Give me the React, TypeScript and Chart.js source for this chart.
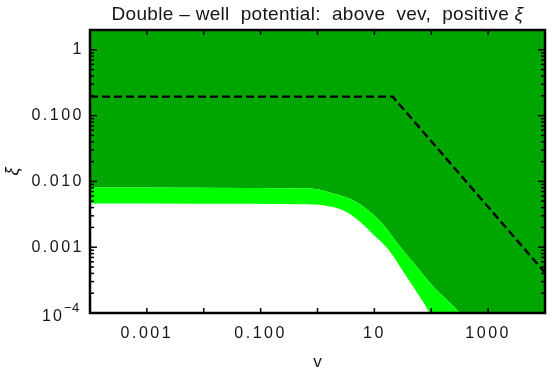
import React, { useEffect, useRef } from "react";
import { Chart, registerables } from "chart.js";

Chart.register(...registerables);

// ---- text ----
const TITLE_MAIN = "Double – well  potential:  above  vev,  positive ";
const TITLE_SYMBOL = "ξ";
const X_LABEL = "v";
const Y_LABEL = "ξ";

// ---- ticks ----
const xTickValues = [1e-4, 1e-3, 1e-2, 1e-1, 1, 10, 100, 1000, 1e4];
const xTickLabels = ["", "0.001", "", "0.100", "", "10", "", "1000", ""];
const yTickValues = [1e-4, 1e-3, 1e-2, 1e-1, 1];
const yTickLabels = ["", "0.001", "0.010", "0.100", "1"];
const yPowerBase = "10";
const yPowerExp = "−4";
const yPowerValue = 1e-4;

// ---- region boundaries (v, ξ) ----
// upper edge of the light-green band
const outerV = [1e-4, 0.48, 0.93, 1.82, 3.57, 7.0, 13.7, 26.9, 52.7, 103, 202, 302, 1000, 10000];
const outerXi = [0.0081, 0.00785, 0.00766, 0.00659, 0.00553, 0.0039, 0.00231, 0.00108, 0.000535, 0.000267, 0.000149, 0.000105, 0.000025, 0.000001];
// upper edge of the white region
const innerV = [1e-4, 0.48, 1.4, 2.73, 4.69, 9.1, 17.9, 35.2, 60, 90, 200, 10000];
const innerXi = [0.0046, 0.00449, 0.00428, 0.00367, 0.00275, 0.00163, 0.000906, 0.000379, 0.000188, 0.000105, 0.00002, 0.0000001];
// dashed bound
const dashV = [1e-4, 21, 1e4];
const dashXi = [0.194, 0.194, 0.00041];

const DARK_GREEN = "#00a600";
const LIGHT_GREEN = "#00ff00";
const FONT = "'Liberation Sans', Arial, sans-serif";
const TEXT = "#151515";

const toPts = (xs: number[], ys: number[]) => xs.map((v, i) => ({ x: v, y: ys[i] }));

export default function App() {
  const ref = useRef<HTMLCanvasElement | null>(null);

  useEffect(() => {
    document.body.style.margin = "0";
    const canvas = ref.current;
    if (!canvas) return;

    const framePlugin = {
      id: "frame",
      beforeDraw(chart: any) {
        chart.ctx.letterSpacing = "2.5px";
      },
      afterDatasetsDraw(chart: any) {
        const { ctx, chartArea, scales } = chart;
        const { left, right, top, bottom } = chartArea;
        const xs = scales.x;
        const ys = scales.y;
        ctx.save();
        ctx.strokeStyle = "#000";
        ctx.lineWidth = 1.5;
        const seg = (x1: number, y1: number, x2: number, y2: number) => {
          ctx.beginPath();
          ctx.moveTo(x1, y1);
          ctx.lineTo(x2, y2);
          ctx.stroke();
        };
        for (const v of xTickValues) {
          const px = xs.getPixelForValue(v);
          seg(px, bottom, px, bottom - 5);
          seg(px, top, px, top + 5);
        }
        for (let k = -4; k <= 0; k++) {
          for (let m = 1; m <= 9; m++) {
            const val = m * Math.pow(10, k);
            if (val > ys.max) break;
            const py = ys.getPixelForValue(val);
            const len = m === 1 ? 7 : 4;
            seg(left, py, left + len, py);
            seg(right, py, right - len, py);
          }
        }
        ctx.lineWidth = 2.5;
        ctx.strokeRect(left, top, right - left, bottom - top);
        ctx.restore();
      },
      afterDraw(chart: any) {
        const { ctx, chartArea, scales } = chart;
        const cx = (chartArea.left + chartArea.right) / 2;
        const cy = (chartArea.top + chartArea.bottom) / 2;
        ctx.save();
        ctx.fillStyle = TEXT;
        ctx.letterSpacing = "0.3px";
        ctx.textBaseline = "alphabetic";
        ctx.font = `19px ${FONT}`;
        const w1 = ctx.measureText(TITLE_MAIN).width;
        ctx.font = `italic 19px ${FONT}`;
        const w2 = ctx.measureText(TITLE_SYMBOL).width;
        const x0 = cx - (w1 + w2) / 2;
        ctx.textAlign = "left";
        ctx.font = `19px ${FONT}`;
        ctx.fillText(TITLE_MAIN, x0, 20);
        ctx.font = `italic 19px ${FONT}`;
        ctx.fillText(TITLE_SYMBOL, x0 + w1, 20);

        // 10^-4 tick label
        const py = scales.y.getPixelForValue(yPowerValue);
        ctx.letterSpacing = "2px";
        ctx.textAlign = "left";
        ctx.font = `16px ${FONT}`;
        ctx.fillText(yPowerBase, 42, py + 8);
        ctx.letterSpacing = "0.5px";
        ctx.font = `13px ${FONT}`;
        ctx.fillText(yPowerExp, 64, py - 1);

        ctx.letterSpacing = "0px";
        ctx.textAlign = "center";
        ctx.font = `17px ${FONT}`;
        ctx.fillText(X_LABEL, cx, 367);

        ctx.translate(13, cy);
        ctx.rotate(-Math.PI / 2);
        ctx.textBaseline = "middle";
        ctx.font = `italic 18px ${FONT}`;
        ctx.fillText(Y_LABEL, 0, 0);
        ctx.restore();
      },
    };

    const region = { borderWidth: 0, borderColor: "rgba(0,0,0,0)", pointRadius: 0, cubicInterpolationMode: "monotone" };

    const chart = new Chart(canvas, {
      type: "line",
      data: {
        datasets: [
          {
            label: "bound",
            data: toPts(dashV, dashXi),
            borderColor: "#000",
            borderWidth: 2.4,
            borderDash: [8, 4],
            pointRadius: 0,
            fill: false,
          },
          { label: "inner", data: toPts(innerV, innerXi), ...region, backgroundColor: "#ffffff", fill: "start" },
          { label: "outerLight", data: toPts(outerV, outerXi), ...region, backgroundColor: LIGHT_GREEN, fill: "start" },
          { label: "outerDark", data: toPts(outerV, outerXi), ...region, backgroundColor: DARK_GREEN, fill: "end" },
        ],
      },
      options: {
        animation: false,
        responsive: false,
        events: [],
        layout: { padding: { top: 30, right: 9, left: 0, bottom: 0 } },
        plugins: {
          legend: { display: false },
          title: { display: false },
          tooltip: { enabled: false },
        },
        scales: {
          x: {
            type: "logarithmic",
            min: 1e-4,
            max: 1e4,
            grid: { display: false, drawTicks: false },
            border: { display: false },
            afterBuildTicks: (s: any) => {
              s.ticks = xTickValues.map((v) => ({ value: v }));
            },
            afterFit: (s: any) => {
              s.height = 59;
            },
            ticks: {
              autoSkip: false,
              maxRotation: 0,
              minRotation: 0,
              padding: 11,
              color: TEXT,
              font: { family: FONT, size: 16 },
              callback: (v: any) => xTickLabels[xTickValues.indexOf(Number(v))] ?? "",
            },
          },
          y: {
            type: "logarithmic",
            min: 1e-4,
            max: 2,
            grid: { display: false, drawTicks: false },
            border: { display: false },
            afterBuildTicks: (s: any) => {
              s.ticks = yTickValues.map((v) => ({ value: v }));
            },
            afterFit: (s: any) => {
              s.width = 90;
            },
            ticks: {
              autoSkip: false,
              padding: 6,
              color: TEXT,
              font: { family: FONT, size: 16 },
              callback: (v: any) => yTickLabels[yTickValues.indexOf(Number(v))] ?? "",
            },
          },
        },
      },
      plugins: [framePlugin],
    } as any);

    return () => chart.destroy();
  }, []);

  return (
    <div style={{ width: 556, height: 372 }}>
      <canvas ref={ref} width={556} height={372} style={{ width: 556, height: 372, display: "block" }} />
    </div>
  );
}
